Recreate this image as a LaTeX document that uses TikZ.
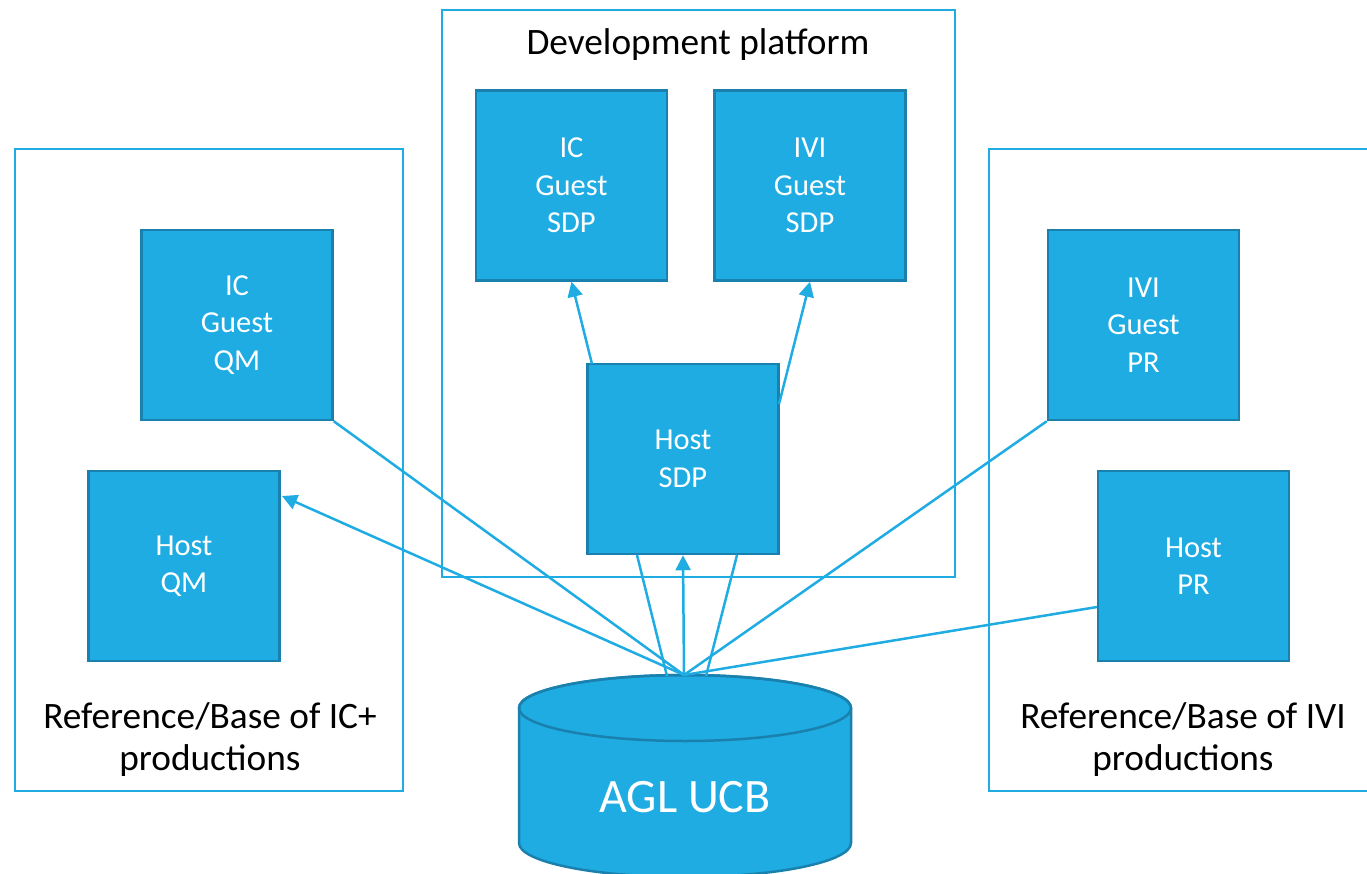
\documentclass[tikz,border=0pt]{standalone}
\usepackage{fontspec}
\setmainfont{Carlito}
\usetikzlibrary{arrows.meta}
\definecolor{boxfill}{HTML}{1EACE2}
\definecolor{boxdraw}{HTML}{1A80AD}
\definecolor{frameblue}{HTML}{1EACE2}
\tikzset{
  bluebox/.style={rectangle, fill=boxfill, draw=boxdraw, line width=2.5pt,
    minimum width=191pt, minimum height=190pt, inner sep=0pt, align=center,
    text=white, font=\fontsize{30.5}{37.5}\selectfont},
  frame/.style={draw=frameblue, line width=2.2pt},
  framelabel/.style={align=center, text=black, font=\fontsize{37.3}{42}\selectfont},
  conn/.style={draw=boxfill, line width=2.5pt},
  arr/.style={conn, -{Triangle[length=15pt,width=15pt]}}
}
\begin{document}
\begin{tikzpicture}[x=1pt,y=1pt]
\useasboundingbox (0,0) rectangle (1367,-874);
\clip (0,0) rectangle (1367,-874);
% containers
\draw[frame] (15,-149) rectangle (403,-791);
\draw[frame] (442,-10) rectangle (955,-577);
\draw[frame] (989,-149) rectangle (1380,-791);
\node[framelabel] (lblL) at (210,-740) {Reference/Base of IC+\\productions};
\node[framelabel] (lblC) at (698,-45) {Development platform};
\node[framelabel] (lblR) at (1183,-740) {Reference/Base of IVI\\productions};
% boxes
\node[bluebox] (icqm) at (237,-325) {\raisebox{-3pt}{\parbox{191pt}{\centering IC\\Guest\\QM}}};
\node[bluebox] (hqm) at (184,-566) {Host\\QM};
\node[bluebox] (icsdp) at (571.5,-185.5) {IC\\Guest\\SDP};
\node[bluebox] (ivisdp) at (810,-185.5) {IVI\\Guest\\SDP};
\node[bluebox] (sdp) at (683,-459) {Host\\SDP};
\node[bluebox] (ivipr) at (1143.5,-325) {\raisebox{-3pt}{\parbox{191pt}{\centering IVI\\Guest\\PR}}};
\node[bluebox] (hpr) at (1193.5,-566) {Host\\PR};
% cylinder
\path[fill=boxfill, draw=boxdraw, line width=2.5pt]
  (519,-708) -- (519,-843) arc[start angle=180, end angle=360, x radius=166, y radius=34]
  -- (851,-708) arc[start angle=0, end angle=180, x radius=166, y radius=33] -- cycle;
\draw[boxdraw, line width=2.5pt] (685,-708) ellipse[x radius=166, y radius=33];
\node[text=white, font=\fontsize{48}{56}\selectfont] (ucb) at (685,-797) {AGL UCB};
% connector points
\coordinate (hub) at (684,-675);
\coordinate (hubl) at (667,-676);
\coordinate (hubr) at (706,-676);
\coordinate (sdpbl) at (637,-555);
\coordinate (sdpbr) at (737,-555);
\coordinate (sdptl) at (592,-364);
\coordinate (sdpr) at (779,-404);
\coordinate (hqmin) at (282,-496);
\coordinate (hprin) at (1097,-607);
% connectors
\draw[conn] (icqm.south east) -- (hub);
\draw[arr] (hub) -- (hqmin);
\draw[conn] (sdpbl) -- (hubl);
\draw[conn] (sdpbr) -- (hubr);
\draw[arr] (hub) -- (sdp.south);
\draw[arr] (sdptl) -- (icsdp.south);
\draw[arr] (sdpr) -- (ivisdp.south);
\draw[conn] (ivipr.south west) -- (hub);
\draw[conn] (hprin) -- (hub);
\end{tikzpicture}
\end{document}
